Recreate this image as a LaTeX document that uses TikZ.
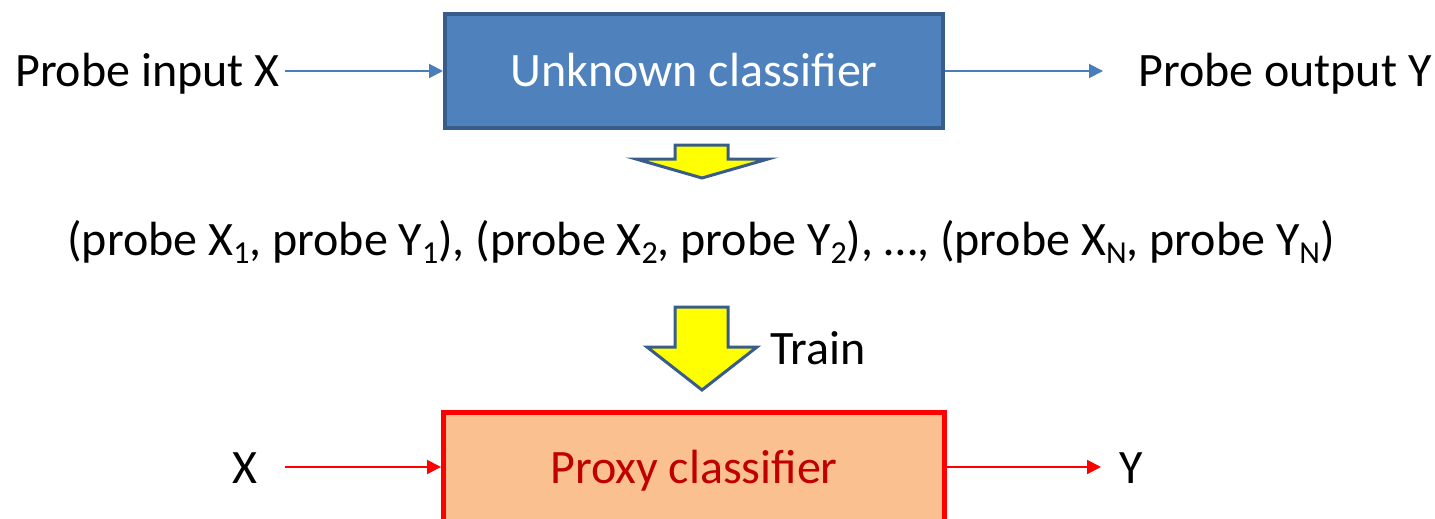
\documentclass[tikz,border=0pt]{standalone}
\usepackage{fontspec}
\setmainfont{Carlito}
\usetikzlibrary{arrows.meta}
\definecolor{boxblue}{HTML}{4F81BD}
\definecolor{boxborder}{HTML}{385D8A}
\definecolor{lineblue}{HTML}{4A7EBB}
\definecolor{proxyfill}{HTML}{FAC090}
\definecolor{proxytext}{HTML}{C00000}
\definecolor{arrowyellow}{HTML}{FFFF00}
\newcommand{\mysub}[1]{\raisebox{-0.17em}{\fontsize{32}{32}\selectfont #1}}
\tikzset{
  lbl/.style={font=\fontsize{48}{58}\selectfont, inner sep=0pt, anchor=base},
  bluearrow/.style={draw=lineblue, line width=2pt, -{Triangle[length=14pt,width=14pt]}},
  redarrow/.style={draw=red, line width=2pt, -{Triangle[length=14pt,width=14pt]}},
  blockarrow/.style={fill=arrowyellow, draw=boxborder, line width=3pt, line join=miter},
}
\begin{document}
\begin{tikzpicture}[x=1pt,y=-1pt]
\useasboundingbox (0,0) rectangle (1435,519);
\clip (0,0) rectangle (1435,519);
% unknown classifier
\node[draw=boxborder, fill=boxblue, line width=4pt, minimum width=498pt, minimum height=114pt, inner sep=0pt] (unk) at (694,71) {};
\node[lbl, text=white] (unkt) at (694,87) {Unknown classifier};
\node[lbl, anchor=base west] (pin) at (15,87) {Probe input X};
\node[lbl, anchor=base west] (pout) at (1138,87) {Probe output Y};
\coordinate (pinend) at (285,71);
\coordinate (poutend) at (1103,71);
\draw[bluearrow] (pinend) -- (unk.west);
\draw[bluearrow] (unk.east) -- (poutend);
% first block arrow
\draw[blockarrow] (675,145) -- (728,145) -- (728,159) -- (768,159) -- (702,178) -- (636,159) -- (675,159) -- cycle;
% pairs
\node[lbl] (pairs) at (701,255) {(probe X\mysub{1}, probe Y\mysub{1}), (probe X\mysub{2}, probe Y\mysub{2}), …, (probe X\mysub{N}, probe Y\mysub{N})};
% second block arrow
\draw[blockarrow] (675,307) -- (728,307) -- (728,347) -- (757,347) -- (702,390) -- (647,347) -- (675,347) -- cycle;
\node[lbl, anchor=base west] (train) at (770,364) {Train};
% proxy classifier
\node[draw=red, fill=proxyfill, line width=5pt, minimum width=501pt, minimum height=130pt, inner sep=0pt, anchor=north] (prx) at (694,410) {};
\node[lbl, text=proxytext] (prxt) at (694,483) {Proxy classifier};
\node[lbl] (xin) at (245,483) {X};
\node[lbl] (yout) at (1131,483) {Y};
\coordinate (xinend) at (285,467);
\coordinate (youtend) at (1101,467);
\draw[redarrow] (xinend) -- (prx.west |- xinend);
\draw[redarrow] (prx.east |- youtend) -- (youtend);
\end{tikzpicture}
\end{document}
